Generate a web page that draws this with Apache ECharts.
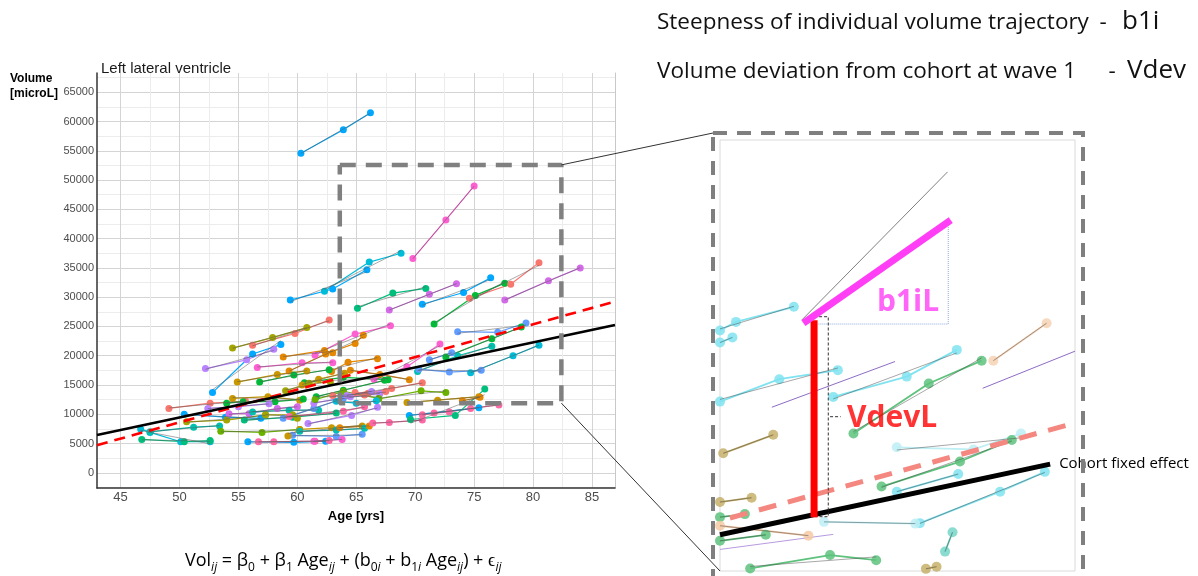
<!DOCTYPE html>
<html>
<head>
<meta charset="utf-8">
<title>Left lateral ventricle</title>
<script src="https://cdn.jsdelivr.net/npm/echarts@6/dist/echarts.min.js"></script>
<style>
  html, body { margin: 0; padding: 0; background: #fff; }
  #main { width: 1198px; height: 576px; }
</style>
</head>
<body>
<div id="main"></div>
<script>
// axis ticks of the left panel
var ageTicks = [45, 50, 55, 60, 65, 70, 75, 80, 85];
var ageGridLines = [45, 47.5, 50, 52.5, 55, 57.5, 60, 62.5, 65, 67.5, 70, 72.5, 75, 77.5, 80, 82.5, 85];
var volTicks = [0, 5000, 10000, 15000, 20000, 25000, 30000, 35000, 40000, 45000, 50000, 55000, 60000, 65000];
var volGridLines = [-2500, 0, 2500, 5000, 7500, 10000, 12500, 15000, 17500, 20000, 22500, 25000, 27500, 30000,
  32500, 35000, 37500, 40000, 42500, 45000, 47500, 50000, 52500, 55000, 57500, 60000, 62500, 65000, 67500];

var hue = {
  salmon: '#F8766D', orange: '#E58700', gold: '#C99800', olive: '#A3A500', lime: '#6BB100',
  green: '#00BA38', jade: '#00BF7D', teal: '#00C0AF', cyan: '#00BCD8', sky: '#00A9FF',
  blue: '#619CFF', violet: '#B983FF', purple: '#D36BE8', pink: '#FD61D1', rose: '#FF67A4'
};

// one entry per subject: colour and (age, volume) visits
var subjectColor = [
  'sky', 'pink', 'sky', 'cyan', 'jade', 'purple', 'sky', 'green', 'salmon', 'purple',
  'olive', 'salmon', 'sky', 'violet', 'pink', 'orange', 'orange', 'pink', 'orange', 'orange',
  'gold', 'green', 'green', 'salmon', 'cyan', 'jade', 'teal', 'sky', 'olive', 'lime',
  'sky', 'rose', 'blue', 'pink', 'gold', 'teal', 'orange', 'rose', 'violet', 'rose',
  'sky', 'jade', 'lime', 'gold', 'salmon', 'green', 'teal', 'blue', 'cyan', 'blue',
  'green', 'blue', 'pink', 'gold', 'green', 'purple', 'teal', 'violet', 'blue', 'jade',
  'olive', 'violet', 'lime', 'rose', 'cyan', 'salmon', 'olive', 'gold', 'orange', 'violet'
];
var subjectPoints = [
  [[60.3, 54600], [63.9, 58600], [66.2, 61500]],
  [[69.8, 36600], [72.6, 43200], [75.0, 49000]],
  [[59.4, 29500], [63.0, 31400], [65.9, 34700]],
  [[62.3, 31000], [66.1, 36000], [68.8, 37500]],
  [[65.1, 28100], [68.1, 30700], [70.9, 31500]],
  [[67.8, 27800], [71.2, 30500], [73.5, 32300]],
  [[70.6, 28800], [74.1, 30800], [76.4, 33300]],
  [[71.6, 25400], [75.1, 30300], [77.6, 32400]],
  [[74.6, 29800], [78.1, 32200], [80.5, 35900]],
  [[77.6, 29500], [81.3, 32800], [84.0, 35000]],
  [[54.5, 21300], [57.9, 23100], [60.8, 24800]],
  [[56.2, 21800], [59.8, 23800], [62.7, 26100]],
  [[52.8, 13700], [56.2, 20300], [58.6, 21900]],
  [[52.2, 17800], [55.7, 19300], [58.0, 21100]],
  [[56.6, 18000], [60.4, 18800], [63.0, 18800]],
  [[58.8, 19800], [62.3, 20900], [63.0, 20500]],
  [[59.3, 17400], [62.4, 20300], [64.9, 22100], [65.6, 23500]],
  [[61.5, 20100], [64.9, 23700], [67.9, 25100]],
  [[62.9, 17300], [64.3, 18900], [66.8, 19500]],
  [[64.5, 17500], [67.0, 16800], [69.5, 15900]],
  [[54.9, 15500], [58.3, 16800], [60.8, 17400]],
  [[56.8, 15500], [59.7, 16700], [62.7, 17600]],
  [[60.6, 15400], [63.9, 16300], [67.7, 15900]],
  [[49.1, 11000], [52.6, 11900], [55.6, 12200]],
  [[46.7, 7500], [47.5, 6900], [50.1, 5300], [52.6, 5300]],
  [[46.8, 5700], [50.4, 5300], [52.6, 5500]],
  [[47.5, 7000], [51.2, 7800], [53.4, 8000]],
  [[50.4, 10000], [53.9, 9500], [56.9, 9300]],
  [[50.6, 8700], [54.0, 9000], [57.3, 9900]],
  [[53.5, 7100], [57.0, 6900], [60.2, 7400]],
  [[55.8, 5300], [59.7, 5200], [62.4, 5400]],
  [[56.7, 5300], [58.0, 5300], [61.5, 5400], [62.7, 5500]],
  [[59.6, 6400], [63.3, 6200], [65.5, 6600]],
  [[61.4, 5400], [63.8, 5700]],
  [[59.2, 6300], [60.2, 7400], [62.9, 7700], [65.5, 8000]],
  [[60.2, 7100], [63.3, 7300], [65.7, 7600]],
  [[63.6, 7700], [66.1, 8000]],
  [[66.4, 8500], [67.8, 8600], [70.6, 9000]],
  [[60.9, 8400], [64.6, 9800], [66.8, 11200]],
  [[70.6, 9900], [71.6, 10200], [72.9, 10400], [74.7, 11000], [77.1, 11600]],
  [[69.5, 9800], [75.4, 11100]],
  [[69.6, 9100], [73.4, 9800], [75.9, 14300]],
  [[66.9, 12600], [70.5, 14000], [72.6, 13700]],
  [[69.3, 12000], [71.9, 12400], [75.4, 13000]],
  [[64.9, 13700], [66.0, 13600], [68.0, 14400], [70.6, 15400]],
  [[61.6, 13000], [63.9, 14100], [67.4, 15800]],
  [[70.2, 17300], [73.6, 20000], [76.5, 21600]],
  [[70.3, 17700], [72.9, 17200], [75.6, 17500]],
  [[74.7, 17100], [78.3, 20000], [80.5, 21800]],
  [[73.6, 24100], [77.0, 24000], [79.4, 25600]],
  [[72.6, 19800], [76.5, 22900], [79.0, 24900]],
  [[71.2, 19300], [73.1, 20500]],
  [[66.5, 16000], [69.3, 18100], [72.1, 22000]],
  [[54.5, 12700], [57.5, 13000], [60.2, 12400]],
  [[54.0, 11900], [55.4, 12150], [58.1, 12150], [60.5, 12600]],
  [[54.2, 10100], [55.9, 10100], [58.3, 11000], [60.0, 11300]],
  [[56.2, 10400], [59.3, 10700], [61.8, 10700]],
  [[52.4, 11000], [55.0, 11300], [57.6, 11800]],
  [[58.8, 9300], [61.4, 11000], [63.9, 12700]],
  [[55.5, 9000], [59.6, 9500], [63.3, 10200]],
  [[57.3, 9900], [59.6, 9900], [60.0, 9300]],
  [[61.4, 11900], [64.5, 13000], [67.0, 13500]],
  [[61.5, 12500], [63.9, 13900], [66.9, 12700]],
  [[59.3, 9600], [63.9, 10500], [65.7, 11300]],
  [[63.3, 12200], [65.0, 11900], [66.7, 12300]],
  [[63.0, 13200], [65.7, 13300], [67.5, 13900]],
  [[59.0, 14000], [61.0, 15300], [62.8, 15500]],
  [[60.4, 15000], [61.8, 16000], [64.0, 17000]],
  [[74.0, 12300], [75.5, 12900]],
  [[64.2, 13200], [66.3, 13900]]
];

// population lines: intercept, slope (per year)
var cohortLine = [-11950, 428];
var dashedLine = [-19275, 558];
var ageRange = [43.0, 86.95];
var volRange = [-2600, 68300];

// region shown enlarged on the right
var zoomAge = [63.6, 82.4];
var zoomVol = [11900, 52600];

// schematic inset (0..100 units both ways)
var insetColor = ['#7FE3F0', '#7FE3F0', '#7FE3F0', '#8E6CC4', '#7FE3F0', '#5DC27C', '#F6D2B4', '#8E6CC4',
  '#BDEFF5', '#5DC27C', '#7FE3F0', '#7FE3F0', '#BDEFF5', '#C7B06A', '#C7B06A', '#5DC27C', '#F5C9A5',
  '#5DC27C', '#B89AE0', '#5DC27C', '#76D6C9', '#C7B06A'];
var insetDots = [true, true, true, false, true, true, true, false, true, true, true, true, true, true, true,
  true, true, true, false, true, true, true];
var insetPoints = [
  [[0, 55.8], [4.5, 57.8], [20.8, 61.3]],
  [[0, 53.0], [3.5, 54.2]],
  [[0, 39.3], [16.7, 44.5], [33.2, 46.6]],
  [[14.6, 38.0], [49.3, 48.6]],
  [[31.9, 40.4], [52.6, 45.1], [66.7, 51.3]],
  [[37.6, 31.9], [58.8, 43.5], [73.7, 48.8]],
  [[77.0, 48.8], [92.0, 57.5]],
  [[74.0, 42.4], [100, 51.0]],
  [[49.8, 28.7], [71.4, 28.2], [84.8, 31.9]],
  [[45.5, 19.6], [67.6, 25.4], [82.2, 30.4]],
  [[49.8, 18.4], [67.1, 22.5]],
  [[56.3, 11.1], [78.9, 18.4], [91.5, 23.0]],
  [[29.3, 11.4], [55.0, 11.0]],
  [[0.9, 27.3], [15.0, 31.6]],
  [[0, 16.0], [8.9, 17.0]],
  [[0, 12.5], [7.0, 13.2]],
  [[0, 10.5], [24.9, 8.2]],
  [[0, 7.0], [12.9, 8.4]],
  [[0, 5.0], [31.9, 8.5]],
  [[8.5, 0.6], [31.0, 3.7], [44.0, 2.5]],
  [[63.4, 4.5], [65.5, 9.0]],
  [[58.0, 0.5], [61.0, 1.0]]
];
var insetCohort = [[0, 8.4], [93, 24.8]];
var insetDashed = [[2.8, 12.3], [98, 33.9]];
var insetVdev = [[26.5, 12.5], [26.5, 58.2]];
var insetSlope = [[23.5, 57.5], [65, 81.4]];
var insetSteep = [[23, 58.2], [64.1, 92.6]];
var insetTriangle = [[27.7, 57.3], [64.3, 57.3], [64.3, 81.4]];
var insetBracket = [[26.5, 59.0], [30.5, 59.0], [30.5, 12.6], [26.5, 12.6]];
var insetPointer = [[31, 35.8], [34, 35.8]];
var insetLabels = [['b1iL', 44.2, 62.4, '#FF3EF5'], ['VdevL', 35.8, 35.5, '#FF0000']];

var INSET = { left: 720, top: 140, width: 355, height: 431 };

function olsLine(pts) {
  var n = pts.length, mx = 0, my = 0;
  pts.forEach(function (p) { mx += p[0] / n; my += p[1] / n; });
  var sxy = 0, sxx = 0;
  pts.forEach(function (p) { sxy += (p[0] - mx) * (p[1] - my); sxx += (p[0] - mx) * (p[0] - mx); });
  var b = sxx ? sxy / sxx : 0;
  var x0 = pts[0][0], x1 = pts[n - 1][0];
  return [[x0, my + b * (x0 - mx)], [x1, my + b * (x1 - mx)]];
}

var series = [];
subjectPoints.forEach(function (pts, i) {
  var c = hue[subjectColor[i]];
  series.push({
    type: 'line', data: pts, xAxisIndex: 0, yAxisIndex: 0, z: 2,
    symbol: 'circle', symbolSize: 7, showSymbol: true,
    lineStyle: { color: c, width: 1.2 }, itemStyle: { color: c }
  });
});
subjectPoints.forEach(function (pts) {
  series.push({
    type: 'line', data: olsLine(pts), xAxisIndex: 0, yAxisIndex: 0, z: 3,
    symbol: 'none', lineStyle: { color: 'rgba(90,90,90,0.75)', width: 0.7 }
  });
});
function popLine(coef) {
  return ageRange.map(function (a) { return [a, coef[0] + coef[1] * a]; });
}
series.push({
  type: 'line', data: popLine(dashedLine), xAxisIndex: 0, yAxisIndex: 0, z: 4, symbol: 'none',
  lineStyle: { color: '#FF0000', width: 2.6, type: [11, 7] }
});
series.push({
  type: 'line', data: popLine(cohortLine), xAxisIndex: 0, yAxisIndex: 0, z: 4, symbol: 'none',
  lineStyle: { color: '#000', width: 2.6 }
});
series.push({
  type: 'line', xAxisIndex: 0, yAxisIndex: 0, z: 5, symbol: 'none',
  data: [[zoomAge[0], zoomVol[1]], [zoomAge[1], zoomVol[1]], [zoomAge[1], zoomVol[0]],
         [zoomAge[0], zoomVol[0]], [zoomAge[0], zoomVol[1]]],
  lineStyle: { color: '#808080', width: 4.5, type: [16, 10] }
});

// inset
insetPoints.forEach(function (pts, i) {
  var c = insetColor[i];
  series.push({
    type: 'line', data: pts, xAxisIndex: 1, yAxisIndex: 2, z: 2,
    symbol: insetDots[i] ? 'circle' : 'none', symbolSize: 10,
    lineStyle: { color: c, width: insetDots[i] ? 1.8 : 1 }, itemStyle: { color: c, opacity: 0.85 }
  });
  if (insetDots[i]) {
    series.push({
      type: 'line', data: olsLine(pts), xAxisIndex: 1, yAxisIndex: 2, z: 3, symbol: 'none',
      lineStyle: { color: 'rgba(70,70,70,0.6)', width: 0.8 }
    });
  }
});
series.push({
  type: 'line', data: insetDashed, xAxisIndex: 1, yAxisIndex: 2, z: 4, symbol: 'none',
  lineStyle: { color: '#F4877F', width: 5, type: [18, 12] }
});
series.push({
  type: 'line', data: insetCohort, xAxisIndex: 1, yAxisIndex: 2, z: 4, symbol: 'none',
  lineStyle: { color: '#000', width: 5 },
  endLabel: { show: true, formatter: 'Cohort fixed effect', distance: 9, fontSize: 15,
    fontFamily: 'Open Sans', color: '#000' }
});
series.push({
  type: 'line', data: insetSteep, xAxisIndex: 1, yAxisIndex: 2, z: 4, symbol: 'none',
  lineStyle: { color: '#808080', width: 1 }
});
series.push({
  type: 'line', data: insetTriangle, xAxisIndex: 1, yAxisIndex: 2, z: 4, symbol: 'none',
  lineStyle: { color: '#8DA9DB', width: 1, type: 'dotted' }
});
series.push({
  type: 'line', data: insetBracket, xAxisIndex: 1, yAxisIndex: 2, z: 4, symbol: 'none',
  lineStyle: { color: '#333', width: 1, type: [3, 2] }
});
series.push({
  type: 'line', data: insetPointer, xAxisIndex: 1, yAxisIndex: 2, z: 4, symbol: 'none',
  lineStyle: { color: '#333', width: 1, type: [3, 2] }
});
series.push({
  type: 'line', data: insetVdev, xAxisIndex: 1, yAxisIndex: 2, z: 5, symbol: 'none',
  lineStyle: { color: '#FF0000', width: 7, cap: 'butt' }
});
series.push({
  type: 'line', data: insetSlope, xAxisIndex: 1, yAxisIndex: 2, z: 5, symbol: 'none',
  lineStyle: { color: '#FF3EF5', width: 7 }
});
insetLabels.forEach(function (l) {
  series.push({
    type: 'scatter', data: [[l[1], l[2]]], xAxisIndex: 1, yAxisIndex: 2, z: 6, symbolSize: 0,
    label: { show: true, position: 'right', distance: 0, formatter: l[0], color: l[3],
      fontSize: 30, fontWeight: 'bold', fontFamily: 'Open Sans' }
  });
});

var myChart = echarts.init(document.getElementById('main'), null, { renderer: 'canvas' });

var option = {
  backgroundColor: '#fff',
  animation: false,
  title: {
    text: 'Left lateral ventricle', left: 96, top: 56,
    textStyle: { fontSize: 15, fontWeight: 'normal', color: '#1a1a1a', fontFamily: 'Liberation Sans' }
  },
  grid: [
    { left: 97, top: 73, width: 518, height: 415 },
    { left: INSET.left, top: INSET.top, width: INSET.width, height: INSET.height,
      show: true, borderColor: '#dadada', borderWidth: 1, backgroundColor: '#fff' }
  ],
  xAxis: [
    {
      type: 'value', gridIndex: 0, min: ageRange[0], max: ageRange[1],
      name: 'Age [yrs]', nameLocation: 'middle', nameGap: 22,
      nameTextStyle: { fontSize: 13, fontWeight: 'bold', color: '#000', fontFamily: 'Liberation Sans' },
      axisLine: { show: true, onZero: false, lineStyle: { color: '#333', width: 1.5 } },
      axisTick: { show: false, customValues: ageGridLines },
      axisLabel: { customValues: ageTicks, margin: 3, fontSize: 13, color: '#4d4d4d', fontFamily: 'Liberation Sans',
        formatter: function (v) { return String(v); } },
      splitLine: { show: true, lineStyle: { color: ['#d4d4d4', '#ececec'], width: 1 } }
    },
    { type: 'value', gridIndex: 1, min: 0, max: 100, show: false }
  ],
  yAxis: [
    {
      type: 'value', gridIndex: 0, min: volRange[0], max: volRange[1],
      axisLine: { show: true, onZero: false, lineStyle: { color: '#333', width: 1.5 } },
      axisTick: { show: false, customValues: volGridLines },
      axisLabel: { customValues: volTicks, margin: 3, fontSize: 11, color: '#4d4d4d', fontFamily: 'Liberation Sans',
        formatter: function (v) { return String(v); } },
      splitLine: { show: true, lineStyle: { color: ['#ececec', '#d4d4d4'], width: 1 } }
    },
    {
      type: 'value', gridIndex: 0, min: volRange[0], max: volRange[1], position: 'right',
      axisLine: { show: true, onZero: false, lineStyle: { color: '#c8c8c8', width: 1 } },
      axisTick: { show: false }, axisLabel: { show: false }, splitLine: { show: false }
    },
    { type: 'value', gridIndex: 1, min: 0, max: 100, show: false }
  ],
  series: series
};
myChart.setOption(option);

// annotations: texts, zoom box and connectors
var cornerTop = myChart.convertToPixel({ xAxisIndex: 0, yAxisIndex: 0 }, [zoomAge[1], zoomVol[1]]);
var cornerBottom = myChart.convertToPixel({ xAxisIndex: 0, yAxisIndex: 0 }, [zoomAge[1], zoomVol[0]]);
var outer = { x: INSET.left - 7, y: INSET.top - 7, width: INSET.width + 15, height: INSET.height + 60 };

var formulaText = '{n|Vol}{s|ij}{n| = β}{d|0}{n| + β}{d|1}{n| Age}{s|ij}{n| + (b}{d|0}{s|i}{n| + b}{d|1}{s|i}{n| Age}{s|ij}{n|) + ϵ}{s|ij}';
var bigFont = '22.5px "Open Sans"';

myChart.setOption({
  graphic: [
    {
      type: 'text', left: 10, top: 71,
      style: { text: 'Volume\n[microL]', font: 'bold 12px "Liberation Sans"', fill: '#000', lineHeight: 15 }
    },
    {
      type: 'text', x: 657, y: 23,
      style: { text: 'Steepness of individual volume trajectory', font: bigFont, fill: '#111', verticalAlign: 'middle' }
    },
    { type: 'text', x: 1103, y: 23, style: { text: '-', font: bigFont, fill: '#111', align: 'center', verticalAlign: 'middle' } },
    { type: 'text', x: 1122, y: 22, style: { text: 'b1i', font: '26px "Open Sans"', fill: '#111', verticalAlign: 'middle' } },
    {
      type: 'text', x: 657, y: 72,
      style: { text: 'Volume deviation from cohort at wave 1', font: bigFont, fill: '#111', verticalAlign: 'middle' }
    },
    { type: 'text', x: 1112, y: 72, style: { text: '-', font: bigFont, fill: '#111', align: 'center', verticalAlign: 'middle' } },
    { type: 'text', x: 1127, y: 71, style: { text: 'Vdev', font: '26px "Open Sans"', fill: '#111', verticalAlign: 'middle' } },
    {
      type: 'text', x: 185, y: 561,
      style: {
        text: formulaText, verticalAlign: 'middle', fill: '#000',
        rich: {
          n: { fontSize: 18, fontFamily: 'Open Sans', lineHeight: 26, fill: '#000' },
          s: { fontSize: 12, fontFamily: 'Open Sans', fontStyle: 'italic', lineHeight: 14, verticalAlign: 'bottom', fill: '#000' },
          d: { fontSize: 12, fontFamily: 'Open Sans', lineHeight: 14, verticalAlign: 'bottom', fill: '#000' }
        }
      }
    },
    {
      type: 'rect', z: 10, shape: outer,
      style: { fill: 'none', stroke: '#7f7f7f', lineWidth: 4, lineDash: [14, 10] }
    },
    {
      type: 'line', z: 10,
      shape: { x1: cornerTop[0], y1: cornerTop[1], x2: outer.x, y2: outer.y },
      style: { stroke: '#333', lineWidth: 1 }
    },
    {
      type: 'line', z: 10,
      shape: { x1: cornerBottom[0], y1: cornerBottom[1], x2: INSET.left, y2: INSET.top + INSET.height },
      style: { stroke: '#333', lineWidth: 1 }
    }
  ]
});
</script>
</body>
</html>
